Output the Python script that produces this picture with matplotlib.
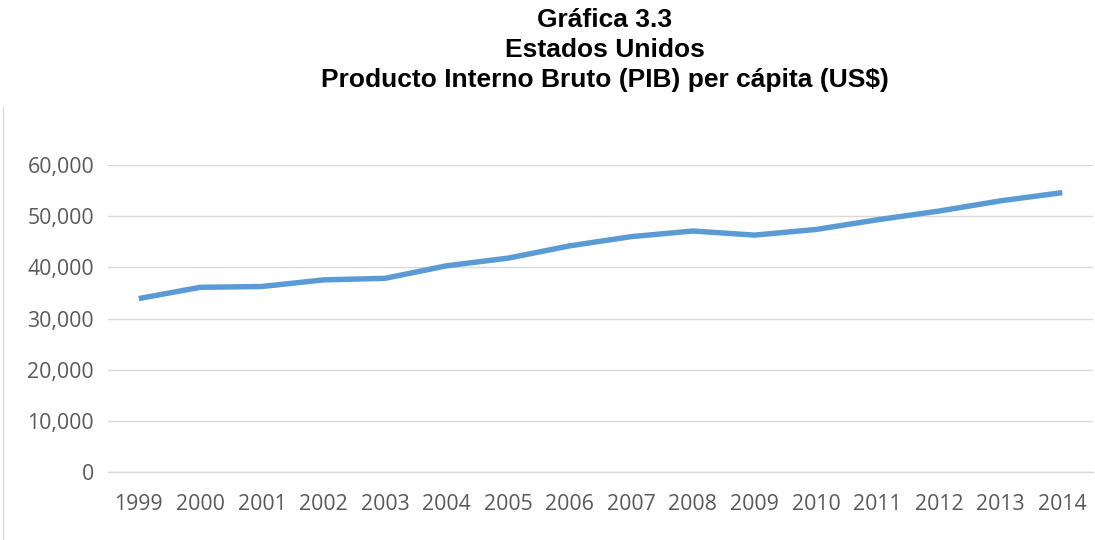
import matplotlib
matplotlib.use("Agg")
import matplotlib.pyplot as plt
from matplotlib.lines import Line2D
from matplotlib.ticker import FuncFormatter

years = [1999, 2000, 2001, 2002, 2003, 2004, 2005, 2006, 2007, 2008,
         2009, 2010, 2011, 2012, 2013, 2014]
gdp_per_capita = [33900, 36100, 36250, 37550, 37850, 40300, 41800, 44200,
                  46000, 47100, 46300, 47400, 49300, 51000, 53000, 54600]
yticks = [0, 10000, 20000, 30000, 40000, 50000, 60000]
title_lines = ["Gráfica 3.3", "Estados Unidos",
               "Producto Interno Bruto (PIB) per cápita (US$)"]

W, H = 1095, 540
fig = plt.figure(figsize=(W / 100, H / 100), dpi=100)
fig.patch.set_facecolor("white")

ax = fig.add_axes([108 / W, 1 - 472 / H, (1093 - 108) / W, (472 - 165) / H])
ax.plot(years, gdp_per_capita, color="#5B9BD5", lw=3.9,
        solid_joinstyle="round", solid_capstyle="butt", zorder=3)

ax.set_xlim(years[0] - 0.5, years[-1] + 0.5)
ax.set_ylim(yticks[0], yticks[-1])
ax.set_xticks(years)
ax.set_xticklabels([str(y) for y in years])
ax.set_yticks(yticks)
ax.yaxis.set_major_formatter(FuncFormatter(lambda v, p: f"{int(v):,}"))
ax.grid(axis="y", color="#D9D9D9", lw=1.0)
ax.set_axisbelow(True)
for s in ["top", "right", "left"]:
    ax.spines[s].set_visible(False)
ax.spines["bottom"].set_color("#D9D9D9")
ax.spines["bottom"].set_linewidth(1.0)
ax.tick_params(axis="both", length=0, colors="#595959")
ax.tick_params(axis="x", pad=16)
ax.tick_params(axis="y", pad=10)
for lab in ax.get_xticklabels() + ax.get_yticklabels():
    lab.set_fontfamily("Open Sans")
    lab.set_fontsize(15.3)
    lab.set_color("#595959")

# left chart-area border
fig.add_artist(Line2D([3 / W, 3 / W], [0, 1 - 107 / H], transform=fig.transFigure,
                      color="#D9D9D9", lw=1.0))

for i, t in enumerate(title_lines):
    fig.text(605 / W, 1 - (27 + 30 * i) / H, t, ha="center", va="baseline",
             fontsize=19, fontweight="bold", family="Liberation Sans", color="black")

fig.savefig("out.png", dpi=100)
